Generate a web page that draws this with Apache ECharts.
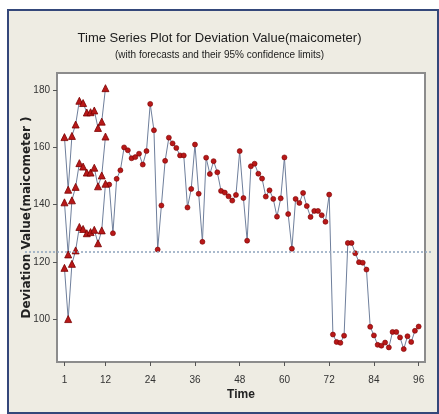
<!DOCTYPE html>
<html>
<head>
<meta charset="utf-8">
<script src="https://cdn.jsdelivr.net/npm/echarts@6/dist/echarts.min.js"></script>
<style>
  body { margin: 0; background: #ffffff; }
  #frame { position: absolute; left: 7px; top: 9px; width: 428px; height: 401px; border: 2px solid #34477a; background: #eeece3; }
  #chart { position: absolute; left: 0; top: 0; width: 439px; height: 414px; }
</style>
</head>
<body>
<div id="frame"></div>
<div id="chart"></div>
<script>
// forecasts (t = 1..12) with 95% limits
const forecastStart = 1
const upperLimit = [163.6, 145.2, 164, 168, 176.3, 175.5, 172.2, 172.3, 172.9, 166.8, 169, 180.7]
const forecast = [140.8, 122.6, 141.5, 146.2, 154.5, 153.3, 151.2, 151.2, 152.9, 146.4, 150.2, 163.8]
const lowerLimit = [117.9, 100, 119.3, 124, 132.2, 131.5, 130, 130.4, 131.2, 126.5, 131, 147.3]

// observed deviation values (t = 13..96)
const dataStart = 13
const deviation = [
  147, 130, 149, 152, 160, 159, 156.2, 156.6, 157.8, 154, 158.7, 175.2,
  166, 124.3, 139.7, 155.3, 163.4, 161.4, 159.8, 157.2, 157.2, 139, 145.5, 161,
  143.8, 127, 156.4, 150.7, 155.2, 151.3, 144.8, 144.2, 142.9, 141.4, 143.4, 158.7,
  142.3, 127.4, 153.4, 154.3, 150.8, 149.1, 142.8, 145, 142, 135.8, 142.2, 156.5,
  136.7, 124.6, 142, 140.6, 144.1, 139.5, 135.7, 137.8, 137.8, 136.3, 134, 143.5,
  94.6, 92, 91.7, 94.2, 126.6, 126.6, 123, 119.9, 119.7, 117.3, 97.3, 94.3,
  91, 90.7, 91.8, 90.1, 95.5, 95.5, 93.6, 89.5, 94, 92, 95.9, 97.4
]
const refLevel = 123.6
const xTicks = [1, 12, 24, 36, 48, 60, 72, 84, 96]
const yTicks = [100, 120, 140, 160, 180]

const sans = '"Liberation Sans", Arial, sans-serif'
const lineColor = '#6f7f9c'
const markColor = '#b81818'

const toPoints = (values, start) => values.map((v, i) => [start + i, v])

function triangleSeries(values) {
  return {
    type: 'line',
    data: toPoints(values, forecastStart),
    symbol: 'triangle',
    symbolSize: 7,
    lineStyle: { color: lineColor, width: 1 },
    itemStyle: { color: markColor, borderColor: '#7a0000', borderWidth: 0.8 },
    z: 3
  }
}

const chart = echarts.init(document.getElementById('chart'), null, { renderer: 'canvas' })
chart.setOption({
  animation: false,
  backgroundColor: 'transparent',
  title: [
    {
      text: 'Time Series Plot for Deviation Value(maicometer)',
      left: 'center',
      top: 27,
      textStyle: { fontFamily: sans, fontSize: 13, fontWeight: 'normal', color: '#1c1c1c' }
    },
    {
      text: '(with forecasts and their 95% confidence limits)',
      left: 'center',
      top: 45,
      textStyle: { fontFamily: sans, fontSize: 10, fontWeight: 'normal', color: '#1c1c1c' }
    }
  ],
  grid: [
    { left: 57, right: 14, top: 73, bottom: 52, show: true, backgroundColor: '#ffffff', borderColor: '#8c8c8c', borderWidth: 2 },
    { left: 25, right: 8, top: 73, bottom: 52 }
  ],
  xAxis: [
    {
      type: 'value',
      gridIndex: 0,
      min: -1,
      max: 97.7,
      name: 'Time',
      nameLocation: 'middle',
      nameGap: 27,
      nameMoveOverlap: false,
      nameTextStyle: { fontFamily: sans, fontSize: 12, fontWeight: 'bold', color: '#222' },
      axisLine: { show: true, onZero: false, lineStyle: { color: '#8c8c8c', width: 2 } },
      axisTick: { show: true, inside: false, length: 4, customValues: xTicks, lineStyle: { color: '#555' } },
      axisLabel: { customValues: xTicks, margin: 13, fontFamily: sans, fontSize: 10, color: '#333' },
      splitLine: { show: false }
    },
    { type: 'value', gridIndex: 1, min: 0, max: 1, show: false }
  ],
  yAxis: [
    {
      type: 'value',
      gridIndex: 0,
      min: 85,
      max: 186,
      name: 'Deviation Value(maicometer )',
      nameLocation: 'middle',
      nameGap: 24,
      nameMoveOverlap: false,
      nameTextStyle: { fontFamily: '"DejaVu Sans", sans-serif', fontSize: 12, fontWeight: 'bold', color: '#222' },
      axisLine: { show: true, onZero: false, lineStyle: { color: '#8c8c8c', width: 2 } },
      axisTick: { show: true, inside: false, length: 4, customValues: yTicks, lineStyle: { color: '#555' } },
      axisLabel: { customValues: yTicks, margin: 7, fontFamily: sans, fontSize: 10, color: '#333' },
      splitLine: { show: false }
    },
    { type: 'value', gridIndex: 1, min: 85, max: 186, show: false }
  ],
  series: [
    {
      type: 'line',
      xAxisIndex: 1,
      yAxisIndex: 1,
      data: [],
      silent: true,
      markLine: {
        symbol: 'none',
        silent: true,
        label: { show: false },
        lineStyle: { color: '#8ea4bd', type: [2, 2], width: 1.5 },
        data: [{ yAxis: refLevel }]
      },
      z: 1
    },
    {
      type: 'line',
      data: toPoints(deviation, dataStart),
      symbol: 'circle',
      symbolSize: 5,
      lineStyle: { color: lineColor, width: 1 },
      itemStyle: { color: markColor, borderColor: '#7a0000', borderWidth: 0.6 },
      z: 3
    },
    triangleSeries(upperLimit),
    triangleSeries(forecast),
    triangleSeries(lowerLimit)
  ]
})
</script>
</body>
</html>
